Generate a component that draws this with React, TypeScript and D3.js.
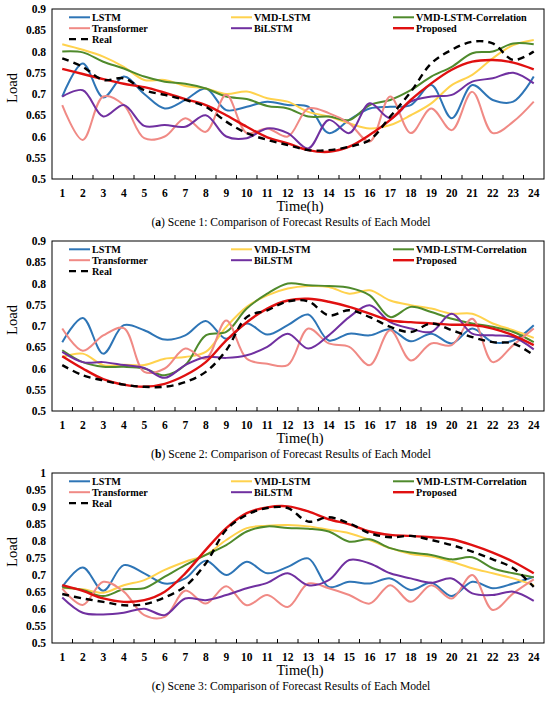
import * as d3 from "d3";

const hours = d3.range(1, 25);

const seriesNames = [
  "LSTM",
  "VMD-LSTM",
  "VMD-LSTM-Correlation",
  "Transformer",
  "BiLSTM",
  "Proposed",
  "Real",
];
const seriesColors = ["#2e75b6", "#ffd24d", "#4f8a2c", "#f08a85", "#7030a0", "#e01010", "#000000"];

// scene 1
const s1Lstm = [0.694, 0.772, 0.692, 0.741, 0.70, 0.666, 0.686, 0.713, 0.662, 0.67, 0.682, 0.674, 0.67, 0.608, 0.639, 0.666, 0.67, 0.674, 0.721, 0.643, 0.721, 0.686, 0.682, 0.741];
const s1Vmd = [0.817, 0.804, 0.788, 0.764, 0.733, 0.733, 0.719, 0.713, 0.70, 0.706, 0.69, 0.682, 0.658, 0.647, 0.631, 0.619, 0.627, 0.65, 0.678, 0.721, 0.745, 0.784, 0.815, 0.827];
const s1Corr = [0.80, 0.798, 0.776, 0.76, 0.741, 0.729, 0.724, 0.713, 0.694, 0.688, 0.672, 0.666, 0.647, 0.647, 0.639, 0.674, 0.686, 0.709, 0.741, 0.764, 0.796, 0.80, 0.819, 0.817];
const s1Trans = [0.674, 0.592, 0.694, 0.674, 0.596, 0.60, 0.643, 0.611, 0.698, 0.608, 0.619, 0.60, 0.666, 0.655, 0.631, 0.588, 0.694, 0.608, 0.666, 0.615, 0.705, 0.608, 0.635, 0.682];
const s1Bi = [0.694, 0.709, 0.647, 0.674, 0.625, 0.627, 0.623, 0.65, 0.60, 0.596, 0.619, 0.608, 0.572, 0.639, 0.608, 0.678, 0.643, 0.682, 0.694, 0.698, 0.729, 0.737, 0.75, 0.725];
const s1Prop = [0.759, 0.747, 0.735, 0.724, 0.716, 0.703, 0.688, 0.674, 0.65, 0.623, 0.598, 0.584, 0.568, 0.564, 0.576, 0.604, 0.639, 0.686, 0.725, 0.757, 0.776, 0.78, 0.774, 0.758];
const s1Real = [0.784, 0.764, 0.733, 0.737, 0.709, 0.698, 0.686, 0.67, 0.635, 0.608, 0.592, 0.58, 0.568, 0.568, 0.576, 0.592, 0.647, 0.705, 0.772, 0.804, 0.823, 0.819, 0.78, 0.80];

// scene 2
const s2Lstm = [0.662, 0.719, 0.635, 0.702, 0.69, 0.668, 0.678, 0.712, 0.67, 0.706, 0.68, 0.702, 0.727, 0.666, 0.682, 0.678, 0.692, 0.664, 0.682, 0.659, 0.694, 0.662, 0.666, 0.702];
const s2Vmd = [0.627, 0.635, 0.608, 0.609, 0.608, 0.623, 0.627, 0.639, 0.698, 0.745, 0.772, 0.788, 0.794, 0.792, 0.776, 0.784, 0.76, 0.749, 0.741, 0.729, 0.729, 0.706, 0.69, 0.672];
const s2Corr = [0.643, 0.615, 0.604, 0.604, 0.60, 0.584, 0.608, 0.678, 0.686, 0.741, 0.776, 0.80, 0.796, 0.794, 0.79, 0.772, 0.721, 0.745, 0.733, 0.717, 0.706, 0.698, 0.686, 0.662];
const s2Trans = [0.694, 0.642, 0.678, 0.695, 0.592, 0.60, 0.647, 0.623, 0.713, 0.623, 0.611, 0.608, 0.694, 0.659, 0.651, 0.608, 0.69, 0.619, 0.659, 0.655, 0.717, 0.615, 0.655, 0.694];
const s2Bi = [0.639, 0.615, 0.615, 0.608, 0.601, 0.578, 0.608, 0.627, 0.625, 0.631, 0.651, 0.682, 0.647, 0.678, 0.721, 0.749, 0.709, 0.694, 0.686, 0.729, 0.682, 0.678, 0.674, 0.645];
const s2Prop = [0.629, 0.60, 0.575, 0.562, 0.557, 0.564, 0.584, 0.615, 0.666, 0.709, 0.741, 0.76, 0.764, 0.757, 0.745, 0.729, 0.713, 0.709, 0.706, 0.703, 0.702, 0.694, 0.678, 0.655];
const s2Real = [0.608, 0.584, 0.572, 0.562, 0.557, 0.557, 0.568, 0.592, 0.643, 0.721, 0.737, 0.758, 0.758, 0.725, 0.737, 0.721, 0.698, 0.686, 0.706, 0.69, 0.674, 0.662, 0.659, 0.631];

// scene 3
const s3Lstm = [0.665, 0.722, 0.654, 0.729, 0.705, 0.675, 0.69, 0.742, 0.70, 0.739, 0.705, 0.724, 0.749, 0.665, 0.68, 0.675, 0.69, 0.656, 0.677, 0.638, 0.68, 0.661, 0.675, 0.695];
const s3Vmd = [0.662, 0.658, 0.648, 0.67, 0.685, 0.715, 0.739, 0.759, 0.803, 0.838, 0.845, 0.847, 0.843, 0.833, 0.823, 0.803, 0.779, 0.762, 0.754, 0.739, 0.72, 0.705, 0.69, 0.67];
const s3Corr = [0.664, 0.656, 0.638, 0.658, 0.661, 0.695, 0.729, 0.759, 0.788, 0.828, 0.843, 0.838, 0.836, 0.828, 0.798, 0.805, 0.779, 0.766, 0.759, 0.746, 0.752, 0.72, 0.705, 0.693];
const s3Trans = [0.66, 0.612, 0.68, 0.651, 0.582, 0.577, 0.654, 0.616, 0.667, 0.611, 0.641, 0.606, 0.675, 0.661, 0.641, 0.616, 0.67, 0.621, 0.67, 0.631, 0.70, 0.597, 0.646, 0.687];
const s3Bi = [0.634, 0.589, 0.584, 0.589, 0.601, 0.582, 0.631, 0.626, 0.641, 0.661, 0.677, 0.705, 0.67, 0.685, 0.744, 0.734, 0.705, 0.69, 0.677, 0.69, 0.646, 0.641, 0.651, 0.624];
const s3Prop = [0.67, 0.653, 0.631, 0.621, 0.626, 0.651, 0.705, 0.774, 0.838, 0.882, 0.899, 0.902, 0.887, 0.864, 0.849, 0.828, 0.818, 0.815, 0.811, 0.805, 0.788, 0.766, 0.739, 0.705];
const s3Real = [0.644, 0.631, 0.621, 0.611, 0.614, 0.634, 0.667, 0.734, 0.833, 0.877, 0.897, 0.897, 0.857, 0.87, 0.852, 0.823, 0.811, 0.815, 0.803, 0.788, 0.769, 0.746, 0.72, 0.665];

const yTicks1 = [0.5, 0.55, 0.6, 0.65, 0.7, 0.75, 0.8, 0.85, 0.9];
const yTicks3 = [0.5, 0.55, 0.6, 0.65, 0.7, 0.75, 0.8, 0.85, 0.9, 0.95, 1];

const captions = [
  ["a", " Scene 1: Comparison of Forecast Results of Each Model"],
  ["b", " Scene 2: Comparison of Forecast Results of Each Model"],
  ["c", " Scene 3: Comparison of Forecast Results of Each Model"],
];

const panels = [
  { top: 9, series: [s1Lstm, s1Vmd, s1Corr, s1Trans, s1Bi, s1Prop, s1Real], ticks: yTicks1 },
  { top: 241, series: [s2Lstm, s2Vmd, s2Corr, s2Trans, s2Bi, s2Prop, s2Real], ticks: yTicks1 },
  { top: 473, series: [s3Lstm, s3Vmd, s3Corr, s3Trans, s3Bi, s3Prop, s3Real], ticks: yTicks3 },
];

const W = 550;
const H = 701;
const left = 52;
const right = 544;
const plotH = 170;
const font = "'Liberation Serif', 'Times New Roman', serif";

const legendCols = [69, 231, 393];

const Panel = ({ top, series, ticks, caption }: any) => {
  const bottom = top + plotH;
  const x = d3.scaleBand<number>().domain(hours).range([left, right]);
  const y = d3
    .scaleLinear()
    .domain([ticks[0], ticks[ticks.length - 1]])
    .range([bottom, top]);
  const cx = (h: number) => (x(h) ?? 0) + x.bandwidth() / 2;
  const line = d3
    .line<number>()
    .x((_, i) => cx(hours[i]))
    .y((v) => y(v))
    .curve(d3.curveCatmullRom.alpha(0.5));

  return (
    <g>
      <rect x={left} y={top} width={right - left} height={plotH} fill="none" stroke="#000" strokeWidth={1} />
      {hours.slice(1).map((h) => (
        <line key={h} x1={x(h)} x2={x(h)} y1={bottom} y2={bottom - 4} stroke="#000" strokeWidth={1} />
      ))}
      {ticks.map((t: number) => (
        <text key={t} x={46} y={y(t)} dy="0.35em" textAnchor="end" fontSize={11.5} fontWeight="bold">
          {String(t)}
        </text>
      ))}
      {hours.map((h) => (
        <text key={h} x={cx(h)} y={bottom + 18} textAnchor="middle" fontSize={11.5} fontWeight="bold">
          {h}
        </text>
      ))}
      <text x={300} y={bottom + 32} textAnchor="middle" fontSize={14.5}>
        Time(h)
      </text>
      <text transform={`translate(17,${top + 79}) rotate(-90)`} textAnchor="middle" fontSize={14.5}>
        Load
      </text>
      <text x={291} y={bottom + 46.5} textAnchor="middle" fontSize={11.6}>
        (<tspan fontWeight="bold">{caption[0]}</tspan>){caption[1]}
      </text>
      {series.map((vals: number[], i: number) => (
        <path
          key={i}
          d={line(vals) ?? ""}
          fill="none"
          stroke={seriesColors[i]}
          strokeWidth={i >= 5 ? 2.4 : 2}
          strokeDasharray={i === 6 ? "7,5" : undefined}
        />
      ))}
      {seriesNames.map((name, i) => {
        const lx = legendCols[i % 3];
        const ly = top + 8.3 + Math.floor(i / 3) * 10.9;
        return (
          <g key={name}>
            <line
              x1={lx}
              x2={lx + 21}
              y1={ly}
              y2={ly}
              stroke={seriesColors[i]}
              strokeWidth={i >= 5 ? 2.4 : 2}
              strokeDasharray={i === 6 ? "7,5" : undefined}
            />
            <text x={lx + 23} y={ly} dy="0.35em" fontSize={10.2} fontWeight="bold">
              {name}
            </text>
          </g>
        );
      })}
    </g>
  );
};

export default function App() {
  return (
    <svg
      width={W}
      height={H}
      style={{ position: "absolute", left: 0, top: 0, background: "#fff" }}
      fontFamily={font}
    >
      <rect width={W} height={H} fill="#fff" />
      {panels.map((p, i) => (
        <Panel key={i} top={p.top} series={p.series} ticks={p.ticks} caption={captions[i]} />
      ))}
    </svg>
  );
}
